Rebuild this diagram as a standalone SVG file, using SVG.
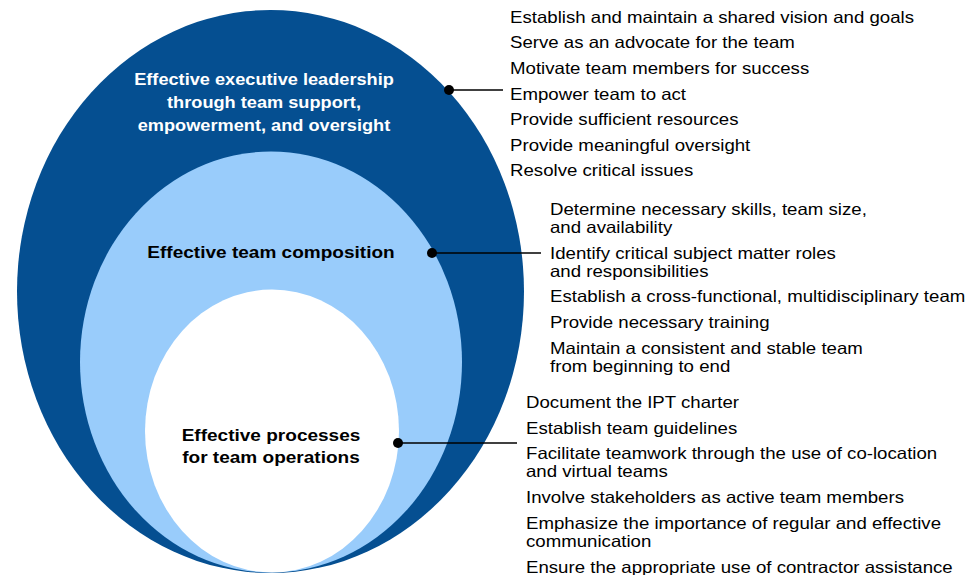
<svg xmlns="http://www.w3.org/2000/svg" width="980" height="575" viewBox="0 0 980 575">
<style>
.lbl{font-family:"Liberation Sans",Arial,sans-serif;font-weight:bold;font-size:17px;text-anchor:middle}
.item{font-family:"Liberation Sans",Arial,sans-serif;font-size:16.5px;fill:#000}
.conn{stroke:#000;stroke-width:1.3;fill:none}
</style>
<rect width="980" height="575" fill="#fff"/>
<g id="outer">
<ellipse cx="270.5" cy="291.5" rx="253.5" ry="281.5" fill="#054f91"/>
<text class="lbl" fill="#fff" transform="translate(264,0) scale(1.07,1)"><tspan x="0" y="85">Effective executive leadership</tspan><tspan x="0" y="108">through team support,</tspan><tspan x="0" y="131">empowerment, and oversight</tspan></text>
</g>
<g id="middle">
<ellipse cx="271" cy="362" rx="191" ry="210.5" fill="#99ccfb"/>
<text class="lbl" fill="#000" transform="translate(271,0) scale(1.12,1)"><tspan x="0" y="258">Effective team composition</tspan></text>
</g>
<g id="inner">
<ellipse cx="272" cy="431" rx="127" ry="141.5" fill="#fff"/>
<text class="lbl" fill="#000" transform="translate(271,0) scale(1.12,1)"><tspan x="0" y="441">Effective processes</tspan><tspan x="0" y="463">for team operations</tspan></text>
</g>
<g id="connectors">
<line class="conn" x1="449" y1="90" x2="503" y2="90"/>
<circle cx="449" cy="90" r="5"/>
<line class="conn" x1="432" y1="253" x2="541" y2="253"/>
<circle cx="432" cy="253" r="5"/>
<line class="conn" x1="398" y1="443" x2="517" y2="443"/>
<circle cx="398" cy="443" r="5"/>
</g>
<g id="list-leadership" class="item" transform="translate(510,0) scale(1.13,1)">
<text x="0" y="23">Establish and maintain a shared vision and goals</text>
<text x="0" y="48">Serve as an advocate for the team</text>
<text x="0" y="74">Motivate team members for success</text>
<text x="0" y="100">Empower team to act</text>
<text x="0" y="125">Provide sufficient resources</text>
<text x="0" y="151">Provide meaningful oversight</text>
<text x="0" y="176">Resolve critical issues</text>
</g>
<g id="list-composition" class="item" transform="translate(550,0) scale(1.13,1)">
<text x="0" y="215">Determine necessary skills, team size,</text>
<text x="0" y="233">and availability</text>
<text x="0" y="259">Identify critical subject matter roles</text>
<text x="0" y="277">and responsibilities</text>
<text x="0" y="302">Establish a cross-functional, multidisciplinary team</text>
<text x="0" y="328">Provide necessary training</text>
<text x="0" y="354">Maintain a consistent and stable team</text>
<text x="0" y="372">from beginning to end</text>
</g>
<g id="list-processes" class="item" transform="translate(526,0) scale(1.13,1)">
<text x="0" y="408">Document the IPT charter</text>
<text x="0" y="434">Establish team guidelines</text>
<text x="0" y="459">Facilitate teamwork through the use of co-location</text>
<text x="0" y="477">and virtual teams</text>
<text x="0" y="503">Involve stakeholders as active team members</text>
<text x="0" y="529">Emphasize the importance of regular and effective</text>
<text x="0" y="547">communication</text>
<text x="0" y="573">Ensure the appropriate use of contractor assistance</text>
</g>
</svg>
